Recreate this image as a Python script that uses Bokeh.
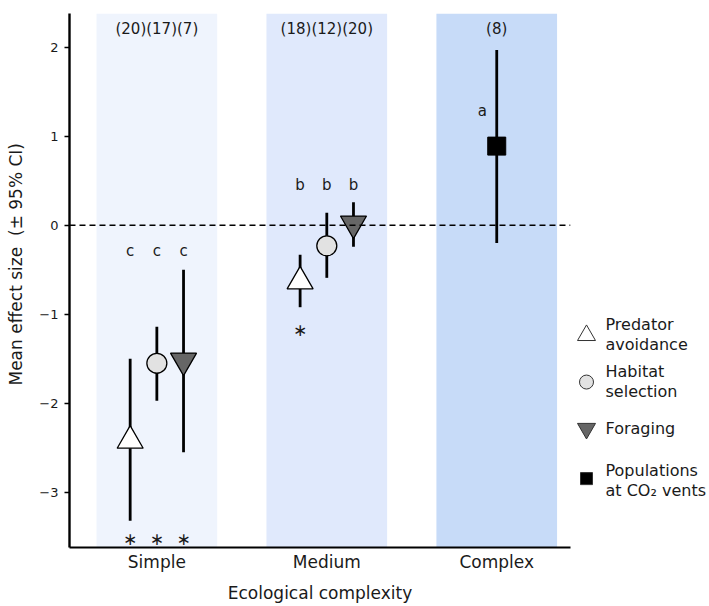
from bokeh.plotting import figure
from bokeh.models import Range1d, FixedTicker, Span
from bokeh.layouts import row
from bokeh.embed import file_html
from bokeh.resources import INLINE
from bokeh.core.properties import value

# ---------------- data ----------------
categories = ["Simple", "Medium", "Complex"]
sample_sizes = ["(20)(17)(7)", "(18)(12)(20)", "(8)"]
group_letters = ["c", "b", "a"]
behaviours = ["Predator\navoidance", "Habitat\nselection", "Foraging"]
vents_label = "Populations\nat CO\u2082 vents"

simple_mean = [-2.42, -1.55, -1.52]
simple_lower = [-3.32, -1.97, -2.55]
simple_upper = [-1.50, -1.14, -0.50]

medium_mean = [-0.63, -0.23, 0.02]
medium_lower = [-0.92, -0.59, -0.24]
medium_upper = [-0.33, 0.14, 0.26]

vents_mean = [0.89]
vents_lower = [-0.20]
vents_upper = [1.97]

simple_significant = [True, True, True]
medium_significant = [True, False, False]

# ---------------- layout / style constants ----------------
FONT = value("DejaVu Sans")
TXT = "#1a1a1a"
Y0, Y1 = -3.62, 2.38
X0, X1 = 0.486, 3.434
DODGE = [-0.157, 0.0, 0.157]
band_colors = ["#eff4fd", "#e0e9fc", "#c7dbf8"]
marker_types = ["triangle", "circle", "inverted_triangle"]
marker_fill = ["white", "#e2e2e2", "#666666"]
marker_size = [26, 20, 26]
letter_y = [-0.29, 0.45, 1.29]
letter_dx = [[-0.157, 0.0, 0.157], [-0.157, 0.0, 0.157], [-0.085]]
count_y = 2.21
simple_star_y = -3.53
medium_star_dy = -0.26

cat_x = [i + 1 for i in range(len(categories))]

p = figure(width=573, height=605, x_range=Range1d(X0, X1), y_range=Range1d(Y0, Y1),
           output_backend="svg", toolbar_location=None,
           min_border_left=69, min_border_right=3, min_border_top=13, min_border_bottom=58)
p.outline_line_color = None
p.grid.visible = False
p.background_fill_color = "white"

# background bands
p.vbar(x=cat_x, width=0.71, bottom=Y0, top=Y1, fill_color=band_colors, line_color=None)

# zero line
p.add_layout(Span(location=0, dimension="width", line_color="black", line_width=1.5,
                  line_dash="6 4"))

def draw_group(ci, means, lows, highs):
    xs = [cat_x[ci] + DODGE[k] for k in range(len(means))]
    p.segment(x0=xs, y0=lows, x1=xs, y1=highs, line_color="black", line_width=2.8)
    for k in range(len(means)):
        p.scatter(x=[xs[k]], y=[means[k]], marker=marker_types[k], size=marker_size[k],
                  fill_color=marker_fill[k], line_color="black", line_width=1.3)
    return xs

xs_s = draw_group(0, simple_mean, simple_lower, simple_upper)
xs_m = draw_group(1, medium_mean, medium_lower, medium_upper)

xv = [cat_x[2]]
p.segment(x0=xv, y0=vents_lower, x1=xv, y1=vents_upper, line_color="black", line_width=2.8)
p.scatter(x=xv, y=vents_mean, marker="square", size=18, fill_color="black", line_color="black")

# sample sizes
p.text(x=cat_x, y=[count_y] * 3, text=sample_sizes, text_font=FONT, text_font_size="15px",
       text_color=TXT, text_align="center", text_baseline="middle")

# group letters
for ci in range(3):
    lx = [cat_x[ci] + d for d in letter_dx[ci]]
    p.text(x=lx, y=[letter_y[ci]] * len(lx), text=[group_letters[ci]] * len(lx), text_font=FONT,
           text_font_size="15px", text_color=TXT, text_align="center", text_baseline="middle")

# significance stars
sx = [xs_s[k] for k in range(3) if simple_significant[k]]
sy = [simple_star_y] * len(sx)
mx = [xs_m[k] for k in range(3) if medium_significant[k]]
my = [medium_lower[k] + medium_star_dy for k in range(3) if medium_significant[k]]
p.text(x=sx + mx, y=sy + my, text=["\u2217"] * (len(sx) + len(mx)), text_font=FONT,
       text_font_size="17px", text_color=TXT, text_align="center", text_baseline="middle")

# axes
p.xaxis.ticker = FixedTicker(ticks=cat_x)
p.xaxis.major_label_overrides = {x: c for x, c in zip(cat_x, categories)}
p.xaxis.major_tick_out = 0
p.xaxis.major_tick_in = 0
p.xaxis.minor_tick_out = 0
p.xaxis.axis_line_width = 2.2
p.xaxis.major_label_standoff = 4
p.xaxis.axis_label = "Ecological complexity"
p.xaxis.axis_label_standoff = 8

p.yaxis.ticker = FixedTicker(ticks=[-3, -2, -1, 0, 1, 2])
p.yaxis.major_tick_out = 5
p.yaxis.major_tick_in = 0
p.yaxis.minor_tick_out = 0
p.yaxis.minor_tick_in = 0
p.yaxis.major_tick_line_width = 1.5
p.yaxis.axis_line_width = 2.4
p.yaxis.major_label_standoff = 6
p.yaxis.axis_label = "\u00a0" * 6 + "Mean effect size\u00a0 (\u00b1 95% CI)"
p.yaxis.axis_label_standoff = 10

for ax in (p.xaxis, p.yaxis):
    ax.axis_label_text_font = "DejaVu Sans"
    ax.axis_label_text_font_style = "normal"
    ax.axis_label_text_font_size = "17px"
    ax.axis_label_text_color = TXT
    ax.major_label_text_font = "DejaVu Sans"
    ax.major_label_text_color = TXT
    ax.axis_line_color = "black"
p.xaxis.major_label_text_font_size = "17px"
p.yaxis.major_label_text_font_size = "13px"

# ---------------- legend panel (frames are aligned, so it shares the y scale) ----------------
leg = figure(width=136, height=605, x_range=Range1d(0, 136), y_range=p.y_range,
             output_backend="svg", toolbar_location=None, x_axis_type=None, y_axis_type=None,
             min_border_left=0, min_border_right=0, min_border_top=13, min_border_bottom=58)
leg.outline_line_color = None
leg.grid.visible = False

leg_marker_y = [-1.236, -1.761, -2.284, -2.846]
leg_text_y = [-1.225, -1.753, -2.281, -2.865]
leg_sizes = [18, 14, 18, 12]
leg_markers = marker_types + ["square"]
leg_fills = marker_fill + ["black"]
leg_labels = behaviours + [vents_label]
for k in range(4):
    leg.scatter(x=[13], y=[leg_marker_y[k]], marker=leg_markers[k], size=leg_sizes[k],
                fill_color=leg_fills[k], line_color="#333333", line_width=1)
leg.text(x=[32] * 4, y=leg_text_y, text=leg_labels, text_font=FONT, text_font_size="16px",
         text_color=TXT, text_align="left", text_baseline="middle", text_line_height=1.05)

layout = row(p, leg)
open("out.html", "w").write(file_html(layout, INLINE))
